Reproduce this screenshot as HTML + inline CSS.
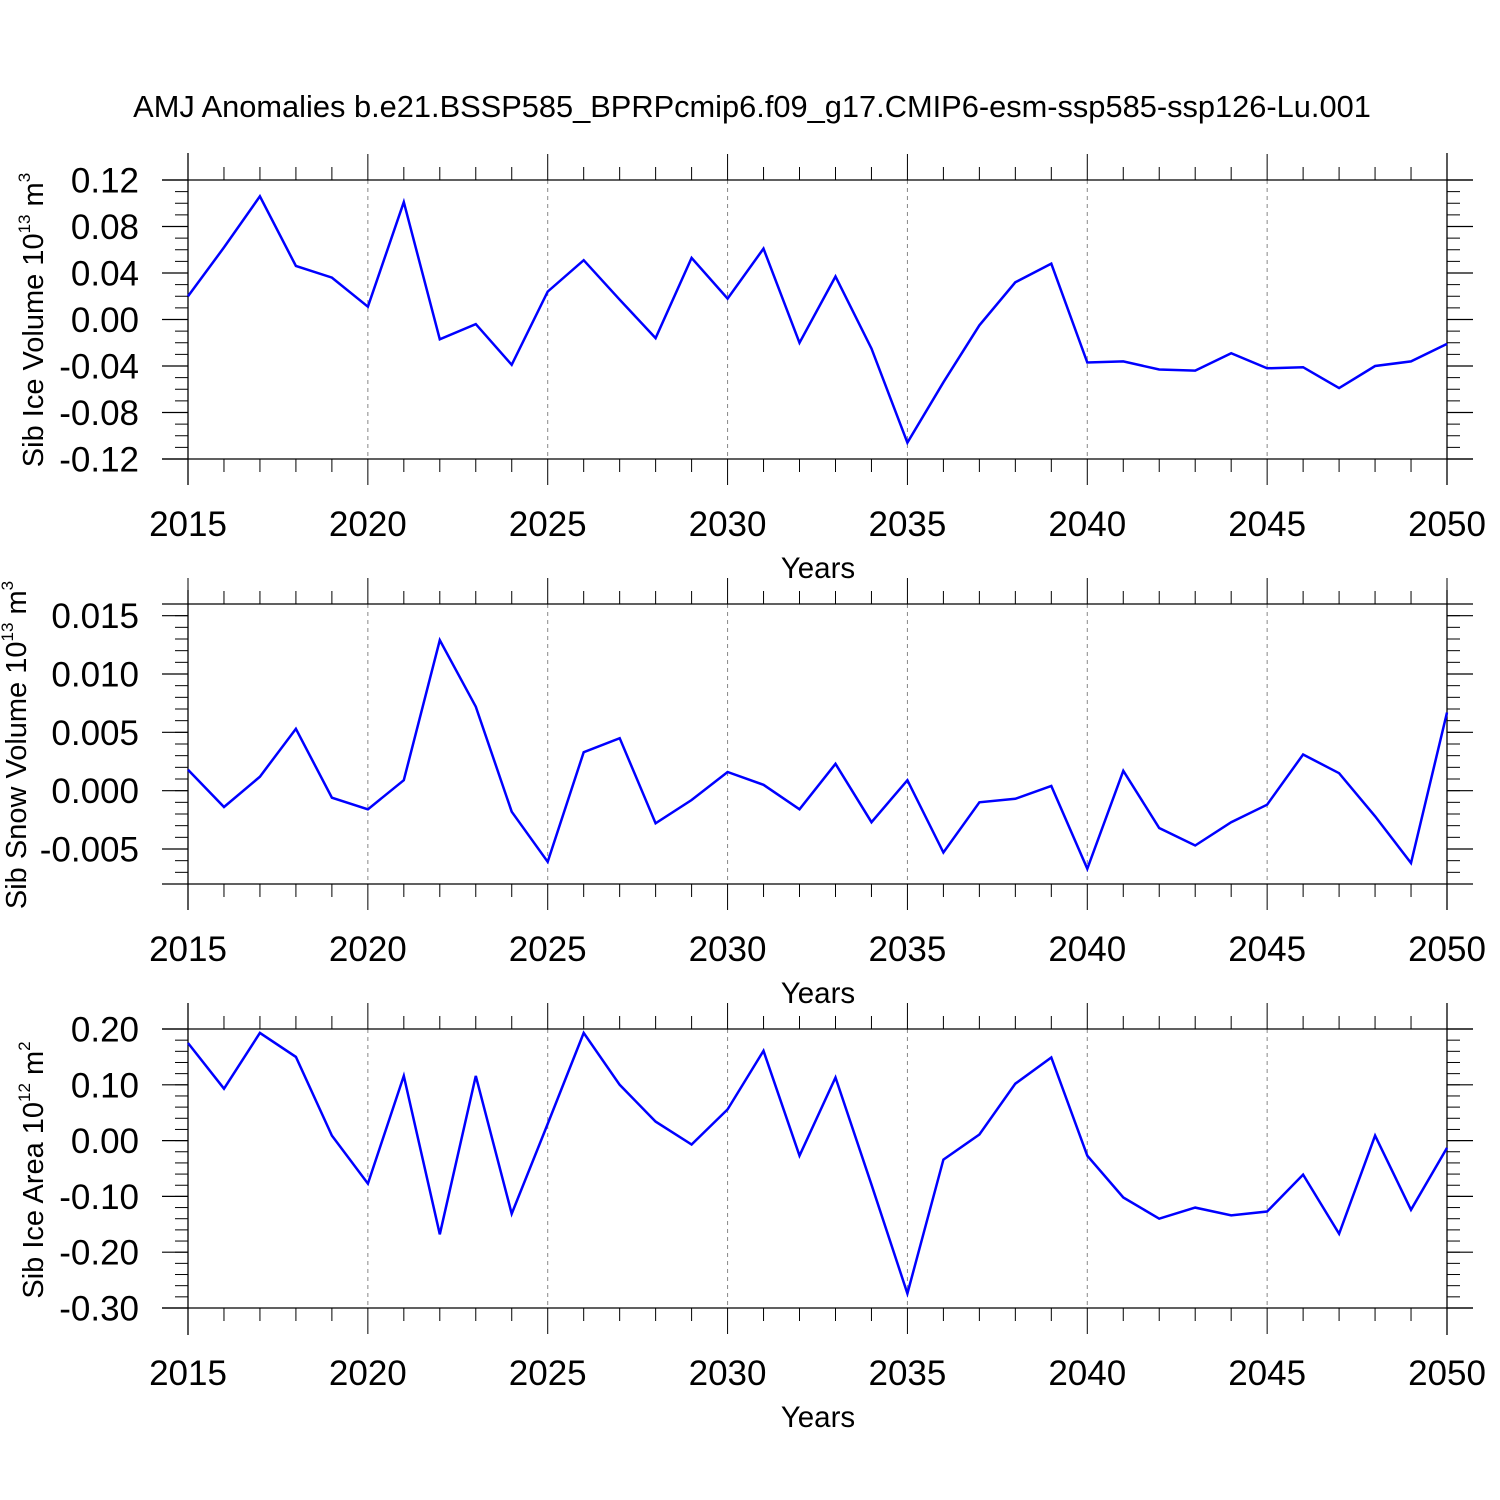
<!DOCTYPE html>
<html><head><meta charset="utf-8"><style>
body{margin:0;background:#fff}
svg{display:block;font-family:"Liberation Sans",sans-serif}
</style></head><body>
<svg id="c" width="1500" height="1500" xmlns="http://www.w3.org/2000/svg">
<text x="752" y="117" font-size="30.8" text-anchor="middle">AMJ Anomalies b.e21.BSSP585_BPRPcmip6.f09_g17.CMIP6-esm-ssp585-ssp126-Lu.001</text>
</svg>
<script>
const years = [];
for (let y = 2015; y <= 2050; y++) years.push(y);
const iceVolume = [0.020,0.062,0.106,0.046,0.036,0.011,0.101,-0.017,-0.004,-0.039,0.024,0.051,0.017,-0.016,0.053,0.018,0.061,-0.020,0.037,-0.025,-0.106,-0.054,-0.005,0.032,0.048,-0.037,-0.036,-0.043,-0.044,-0.029,-0.042,-0.041,-0.059,-0.040,-0.036,-0.021];
const snowVolume = [0.0018,-0.0014,0.0012,0.0053,-0.0006,-0.0016,0.0009,0.0129,0.0072,-0.0018,-0.0061,0.0033,0.0045,-0.0028,-0.0008,0.0016,0.0005,-0.0016,0.0023,-0.0027,0.0009,-0.0053,-0.0010,-0.0007,0.0004,-0.0067,0.0017,-0.0032,-0.0047,-0.0027,-0.0012,0.0031,0.0015,-0.0022,-0.0062,0.0067];
const iceArea = [0.175,0.093,0.193,0.150,0.009,-0.077,0.116,-0.168,0.116,-0.131,0.030,0.193,0.100,0.034,-0.007,0.056,0.161,-0.027,0.113,-0.079,-0.274,-0.034,0.011,0.102,0.149,-0.027,-0.102,-0.140,-0.120,-0.134,-0.127,-0.061,-0.167,0.009,-0.124,-0.013];
const xTickLabels = ["2015","2020","2025","2030","2035","2040","2045","2050"];
const yTicks1 = ["0.12","0.08","0.04","0.00","-0.04","-0.08","-0.12"];
const yTicks2 = ["0.015","0.010","0.005","0.000","-0.005"];
const yTicks3 = ["0.20","0.10","0.00","-0.10","-0.20","-0.30"];

const NS = "http://www.w3.org/2000/svg";
const svg = document.getElementById('c');
function el(tag, attrs, parent) {
  const e = document.createElementNS(NS, tag);
  for (const k in attrs) e.setAttribute(k, attrs[k]);
  (parent || svg).appendChild(e);
  return e;
}
const X0 = 188, X1 = 1447;
const xs = v => X0 + (v - 2015) / 35 * (X1 - X0);

const panels = [
  {key:'ice-volume', top:180, bot:459, ymin:-0.12, ymax:0.12, data:iceVolume, ticks:yTicks1, minor:0.01, title:'Sib Ice Volume 10', sup:'13', unit:' m', usup:'3', vtop:153, vbot:485, tcy:320, tcx:43},
  {key:'snow-volume', top:604, bot:884, ymin:-0.008, ymax:0.016, data:snowVolume, ticks:yTicks2, minor:0.001, title:'Sib Snow Volume 10', sup:'13', unit:' m', usup:'3', vtop:590, vbot:910, tcy:745, tcx:26},
  {key:'ice-area', top:1029, bot:1308, ymin:-0.3, ymax:0.2, data:iceArea, ticks:yTicks3, minor:0.02, title:'Sib Ice Area 10', sup:'12', unit:' m', usup:'2', vtop:1003, vbot:1335, tcy:1170, tcx:43}
];

panels.forEach(p => {
  const g = el('g', {});
  
  
  const ys = v => p.bot - (v - p.ymin) / (p.ymax - p.ymin) * (p.bot - p.top);
  for (let yr = 2020; yr <= 2045; yr += 5) {
    const l = el('line', {x1:xs(yr), x2:xs(yr), y1:p.top, y2:p.bot, stroke:'#888', 'stroke-width':1, 'stroke-dasharray':'4,4'}, g);
    
    
  }
  el('line', {x1:162, x2:1473, y1:p.top, y2:p.top, stroke:'#000', 'stroke-width':1.3}, g);
  el('line', {x1:162, x2:1473, y1:p.bot, y2:p.bot, stroke:'#000', 'stroke-width':1.3}, g);
  el('line', {x1:X0, x2:X0, y1:p.vtop, y2:p.vbot, stroke:'#000', 'stroke-width':1.3}, g);
  el('line', {x1:X1, x2:X1, y1:p.vtop, y2:p.vbot, stroke:'#000', 'stroke-width':1.3}, g);
  for (let yr = 2015; yr <= 2050; yr++) {
    const major = (yr % 5 === 0);
    const len = major ? 26 : 13;
    el('line', {x1:xs(yr), x2:xs(yr), y1:p.top, y2:p.top - len, stroke:'#000', 'stroke-width':1}, g);
    el('line', {x1:xs(yr), x2:xs(yr), y1:p.bot, y2:p.bot + len, stroke:'#000', 'stroke-width':1}, g);
  }
  xTickLabels.forEach(t => {
    const tx = el('text', {x:xs(+t), y:p.bot + 77, 'font-size':35, 'text-anchor':'middle'}, g);
    tx.textContent = t;
    
    
  });
  const xt = el('text', {x:818, y:p.bot + 119, 'font-size':29.5, 'text-anchor':'middle'}, g);
  xt.textContent = 'Years';
  
  
  const n = Math.round((p.ymax - p.ymin) / p.minor);
  for (let i = 0; i <= n; i++) {
    const y = ys(p.ymin + i * p.minor);
    el('line', {x1:X0, x2:X0 - 13, y1:y, y2:y, stroke:'#000', 'stroke-width':1}, g);
    el('line', {x1:X1, x2:X1 + 13, y1:y, y2:y, stroke:'#000', 'stroke-width':1}, g);
  }
  p.ticks.forEach(t => {
    const y = ys(parseFloat(t));
    el('line', {x1:X0, x2:X0 - 26, y1:y, y2:y, stroke:'#000', 'stroke-width':1.2}, g);
    el('line', {x1:X1, x2:X1 + 26, y1:y, y2:y, stroke:'#000', 'stroke-width':1.2}, g);
    const tx = el('text', {x:139, y:y + 12.5, 'font-size':35, 'text-anchor':'end'}, g);
    tx.textContent = t;
    
    
  });
  const yt = el('text', {x:0, y:0, 'font-size':29, 'text-anchor':'middle', transform:'translate(' + p.tcx + ',' + p.tcy + ') rotate(-90)'}, g);
  
  
  const a = el('tspan', {}, yt); a.textContent = p.title;
  const b = el('tspan', {dy:-13, 'font-size':17}, yt); b.textContent = p.sup;
  const c = el('tspan', {dy:13}, yt); c.textContent = p.unit;
  const d = el('tspan', {dy:-13, 'font-size':17}, yt); d.textContent = p.usup;
  const pts = p.data.map((v, i) => xs(years[i]).toFixed(1) + ',' + ys(v).toFixed(1)).join(' ');
  const line = el('polyline', {points:pts, fill:'none', stroke:'#0000ff', 'stroke-width':2.5, 'stroke-linejoin':'miter'}, g);
  
  
});
</script>
</body></html>
